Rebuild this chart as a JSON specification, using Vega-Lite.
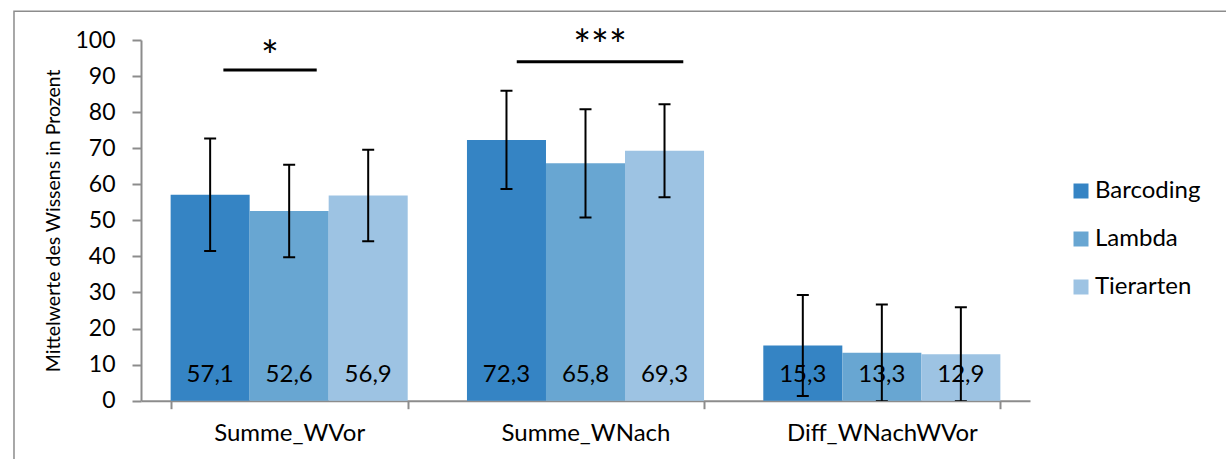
{
  "$schema": "https://vega.github.io/schema/vega-lite/v6.json",
  "width": 889,
  "height": 360.7,
  "autosize": {"type": "none"},
  "padding": {"left": 141, "top": 40, "right": 196, "bottom": 58.3},
  "background": "white",
  "config": {
    "font": "Lato",
    "view": {"stroke": null},
    "locale": {
      "number": {"decimal": ",", "thousands": ".", "grouping": [3], "currency": ["", " €"]}
    },
    "axis": {
      "domainColor": "#8c8c8c",
      "tickColor": "#8c8c8c",
      "domainWidth": 2,
      "tickWidth": 2,
      "labelColor": "black",
      "titleColor": "black",
      "labelFont": "Lato",
      "titleFont": "Lato",
      "grid": false,
      "zindex": 1
    },
    "axisY": {
      "titleFontSize": 19.5,
      "titleFontWeight": "normal",
      "titlePadding": 11,
      "labelFontSize": 23,
      "labelOverlap": false,
      "tickCount": 11,
      "tickSize": 9,
      "labelPadding": 17
    }
  },
  "datasets": {
    "means": [
      {"measure": "Summe_WVor", "group": "Barcoding", "value": 57.1, "lo": 41.5, "hi": 72.7},
      {"measure": "Summe_WVor", "group": "Lambda", "value": 52.6, "lo": 39.8, "hi": 65.4},
      {"measure": "Summe_WVor", "group": "Tierarten", "value": 56.9, "lo": 44.2, "hi": 69.6},
      {"measure": "Summe_WNach", "group": "Barcoding", "value": 72.3, "lo": 58.7, "hi": 85.9},
      {"measure": "Summe_WNach", "group": "Lambda", "value": 65.8, "lo": 50.8, "hi": 80.8},
      {"measure": "Summe_WNach", "group": "Tierarten", "value": 69.3, "lo": 56.4, "hi": 82.2},
      {"measure": "Diff_WNachWVor", "group": "Barcoding", "value": 15.3, "lo": 1.3, "hi": 29.3},
      {"measure": "Diff_WNachWVor", "group": "Lambda", "value": 13.3, "lo": -0.1, "hi": 26.7},
      {"measure": "Diff_WNachWVor", "group": "Tierarten", "value": 12.9, "lo": -0.1, "hi": 25.9}
    ],
    "significance": [
      {"from": 0.278, "to": 0.593, "line": 91.7, "mid": 0.435, "stars": "*", "starY": 91.3},
      {"from": 1.268, "to": 1.83, "line": 94.0, "mid": 1.549, "stars": "***", "starY": 94.4}
    ]
  },
  "layer": [
    {
      "data": {"name": "means"},
      "encoding": {
        "x": {
          "field": "measure",
          "type": "nominal",
          "sort": ["Summe_WVor", "Summe_WNach", "Diff_WNachWVor"],
          "scale": {"paddingInner": 0.2, "paddingOuter": 0.1},
          "axis": {
            "title": null,
            "labelAngle": 0,
            "labelFontSize": 24,
            "labelLimit": 400,
            "tickBand": "extent",
            "tickSize": 8,
            "labelPadding": 13
          }
        },
        "xOffset": {
          "field": "group",
          "type": "nominal",
          "sort": ["Barcoding", "Lambda", "Tierarten"],
          "scale": {"paddingInner": 0, "paddingOuter": 0}
        }
      },
      "layer": [
        {
          "mark": {"type": "bar"},
          "encoding": {
            "y": {
              "field": "value",
              "type": "quantitative",
              "scale": {"domain": [0, 100], "nice": false},
              "axis": {"title": "Mittelwerte des Wissens in Prozent"}
            },
            "color": {
              "field": "group",
              "type": "nominal",
              "scale": {
                "domain": ["Barcoding", "Lambda", "Tierarten"],
                "range": ["#3584c4", "#68a6d2", "#9dc3e3"]
              },
              "legend": {
                "title": null,
                "orient": "none",
                "legendX": 928,
                "legendY": 139,
                "labelFontSize": 24,
                "labelColor": "black",
                "symbolType": "square",
                "symbolSize": 225,
                "symbolStrokeWidth": 0,
                "symbolOpacity": 1,
                "rowPadding": 24,
                "labelOffset": 2
              }
            }
          }
        },
        {
          "mark": {"type": "text", "baseline": "alphabetic", "dy": -19, "fontSize": 24, "color": "black"},
          "encoding": {
            "y": {"datum": 0, "type": "quantitative"},
            "text": {"field": "value", "type": "quantitative", "format": ".1f"}
          }
        },
        {
          "mark": {"type": "rule", "strokeWidth": 2, "color": "black", "clip": true},
          "encoding": {
            "y": {"field": "lo", "type": "quantitative"},
            "y2": {"field": "hi"}
          }
        },
        {
          "mark": {"type": "tick", "size": 12, "thickness": 2, "color": "black", "opacity": 1, "clip": true},
          "encoding": {"y": {"field": "lo", "type": "quantitative"}}
        },
        {
          "mark": {"type": "tick", "size": 12, "thickness": 2, "color": "black", "opacity": 1, "clip": true},
          "encoding": {"y": {"field": "hi", "type": "quantitative"}}
        }
      ]
    },
    {
      "layer": [
        {
          "data": {"name": "significance"},
          "mark": {"type": "rule", "strokeWidth": 3, "color": "black"},
          "encoding": {
            "x": {
              "field": "from",
              "type": "quantitative",
              "scale": {"domain": [0, 3], "nice": false, "zero": false},
              "axis": null
            },
            "x2": {"field": "to"},
            "y": {"field": "line", "type": "quantitative"}
          }
        },
        {
          "data": {"name": "significance"},
          "mark": {"type": "text", "fontSize": 42, "baseline": "alphabetic", "color": "black"},
          "encoding": {
            "x": {"field": "mid", "type": "quantitative"},
            "y": {"field": "starY", "type": "quantitative"},
            "text": {"field": "stars"}
          }
        },
        {
          "data": {"values": [{}]},
          "mark": {"type": "rect", "fill": null, "stroke": "#8c8c8c", "strokeWidth": 1.5},
          "encoding": {
            "x": {"datum": -0.4286, "type": "quantitative"},
            "x2": {"datum": 5},
            "y": {"datum": 108, "type": "quantitative"},
            "y2": {"datum": -30}
          }
        }
      ]
    }
  ],
  "resolve": {"scale": {"x": "independent"}}
}
